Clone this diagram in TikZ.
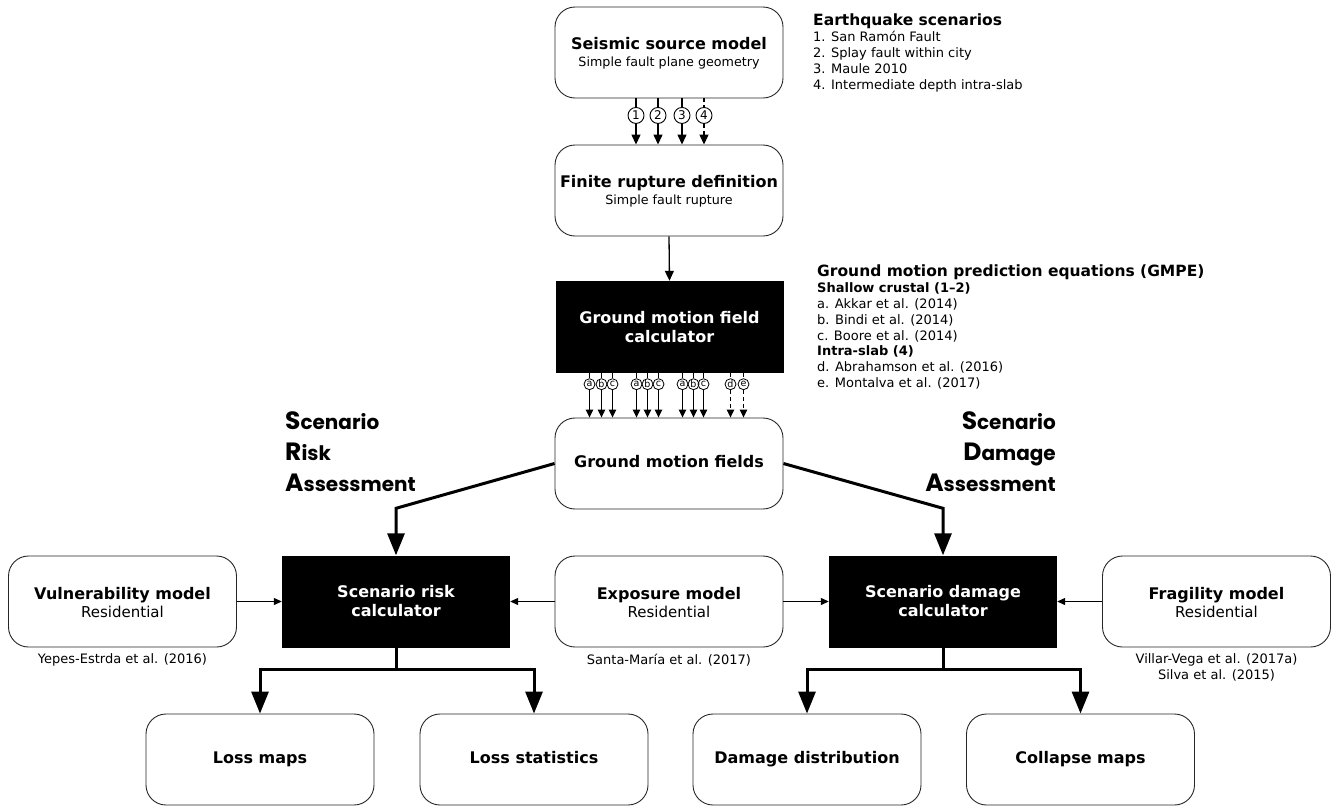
\documentclass[tikz,border=0pt]{standalone}
\usepackage{fontspec}
\setmainfont{DejaVu Sans}
\newfontfamily\headfont{Poppins}
\usetikzlibrary{arrows.meta}

% sizes in px of the drawing (1pt = 1px)
\newcommand{\ttl}[1]{{\fontsize{16}{19}\selectfont\bfseries\strut #1}}
\newcommand{\lttl}[1]{{\fontsize{15.5}{16}\selectfont\bfseries #1}}
\newcommand{\sub}[1]{{\fontsize{12.7}{15}\selectfont #1}}
\newcommand{\subl}[1]{{\fontsize{15}{19}\selectfont #1}}
\newcommand{\initial}[1]{{\fontsize{25}{25}\selectfont #1}}

\begin{document}
\begin{tikzpicture}[x=1pt,y=-1pt,
    box/.style={draw=black!85, line width=0.9pt, rounded corners=20pt,
      minimum width=228pt, minimum height=91pt, align=center, inner sep=0pt},
    calcbox/.style={fill=black, text=white, minimum width=228pt, minimum height=92pt,
      align=center, inner sep=0pt, font=\fontsize{16}{19}\selectfont\bfseries},
    numcirc/.style={circle, draw, line width=0.9pt, minimum size=16pt, inner sep=0pt,
      font=\fontsize{12}{12}\selectfont},
    letcirc/.style={circle, draw, line width=0.8pt, minimum size=11pt, inner sep=0pt,
      font=\fontsize{9.5}{9.5}\selectfont},
    stem/.style={line width=1.3pt},
    thinarrow/.style={line width=1.3pt, -{Triangle[length=10pt,width=9pt]}},
    smallarrow/.style={line width=1.2pt, -{Triangle[length=8pt,width=7.5pt]}},
    sidearrow/.style={line width=1.2pt, -{Triangle[length=8pt,width=7pt]}},
    bigarrow/.style={line width=3pt, line join=miter, -{Triangle[length=22pt,width=17pt]}},
    dashy/.style={dash pattern=on 4pt off 3pt},
    ref/.style={font=\fontsize{13}{16}\selectfont, align=center, inner sep=0pt},
    legend/.style={font=\fontsize{13}{15.8}\selectfont, align=left, inner sep=0pt},
    head/.style={font=\headfont\bfseries\fontsize{20}{31}\selectfont, inner sep=0pt}]

  \useasboundingbox (0,0) rectangle (1331,807);

  % Top chain
  \node[box] (seismic) at (669,52.5) {\ttl{Seismic source model}\\\sub{Simple fault plane geometry}};
  \node[box] (rupture) at (669,190.5) {\ttl{Finite rupture definition}\\\sub{Simple fault rupture}};
  \node[calcbox] (gmfcalc) at (669.5,327) {Ground motion field\\calculator};
  \node[box] (fields) at (669,463.5) {\ttl{Ground motion fields}};

  % Earthquake scenarios
  \foreach \dx/\num in {-33/1,-11/2,13/3}{
    \node[numcirc] (n\num) at ([xshift=\dx pt,yshift=-17pt]seismic.south) {\num};
    \draw[stem] ([xshift=\dx pt]seismic.south) -- (n\num);
    \draw[thinarrow] (n\num) -- (n\num |- rupture.north);
  }
  \node[numcirc] (n4) at ([xshift=35pt,yshift=-17pt]seismic.south) {4};
  \draw[stem, dashy] ([xshift=35pt]seismic.south) -- (n4);
  \draw[thinarrow, dashy] (n4) -- (n4 |- rupture.north);

  \draw[thinarrow] (rupture.south) -- (gmfcalc.north);

  % GMPE per scenario
  \foreach \dx/\lab/\k in {-80/a/1,-68/b/2,-57/c/3,-33/a/4,-22/b/5,-11/c/6,13/a/7,24/b/8,34/c/9}{
    \node[letcirc] (g\k) at ([xshift=\dx pt,yshift=-11pt]gmfcalc.south) {\lab};
    \draw[stem] ([xshift=\dx pt]gmfcalc.south) -- (g\k);
    \draw[smallarrow] (g\k) -- (g\k |- fields.north);
  }
  \foreach \dx/\lab in {61/d,74/e}{
    \node[letcirc] (g\lab) at ([xshift=\dx pt,yshift=-11pt]gmfcalc.south) {\lab};
    \draw[stem, dashy] ([xshift=\dx pt]gmfcalc.south) -- (g\lab);
    \draw[smallarrow, dashy] (g\lab) -- (g\lab |- fields.north);
  }

  % Legends
  \node[legend, anchor=north west] (eqlist) at (813,14)
    {\lttl{Earthquake scenarios}\\
     1. San Ramón Fault\\
     2. Splay fault within city\\
     3. Maule 2010\\
     4. Intermediate depth intra-slab};
  \node[legend, anchor=north west] (gmpelist) at (817,265)
    {\lttl{Ground motion prediction equations (GMPE)}\\
     \textbf{Shallow crustal (1–2)}\\
     a. Akkar et al. (2014)\\
     b. Bindi et al. (2014)\\
     c. Boore et al. (2014)\\
     \textbf{Intra-slab (4)}\\
     d. Abrahamson et al. (2016)\\
     e. Montalva et al. (2017)};

  % Assessment headings
  \node[head, align=left, anchor=north west] (srahead) at (285,411)
    {\initial{S}cenario\\\initial{R}isk\\\initial{A}ssessment};
  \node[head, align=right, anchor=north east] (sdahead) at (1056,411)
    {\initial{S}cenario\\\initial{D}amage\\\initial{A}ssessment};

  % Middle row
  \node[box] (vuln) at (122.5,601.5) {\ttl{Vulnerability model}\\\subl{Residential}};
  \node[calcbox] (riskcalc) at (396,601.5) {Scenario risk\\calculator};
  \node[box] (exposure) at (669,601.5) {\ttl{Exposure model}\\\subl{Residential}};
  \node[calcbox] (dmgcalc) at (943,601.5) {Scenario damage\\calculator};
  \node[box] (fragility) at (1216.5,601.5) {\ttl{Fragility model}\\\subl{Residential}};

  \node[ref, below=6pt] (vulnref) at (vuln.south) {Yepes-Estrda et al. (2016)};
  \node[ref, below=6pt] (expref) at (exposure.south) {Santa-María et al. (2017)};
  \node[ref, below=6pt] (fragref) at (fragility.south) {Villar-Vega et al. (2017a)\\Silva et al. (2015)};

  \draw[sidearrow] (vuln.east) -- (riskcalc.west);
  \draw[sidearrow] (exposure.west) -- (riskcalc.east);
  \draw[sidearrow] (exposure.east) -- (dmgcalc.west);
  \draw[sidearrow] (fragility.west) -- (dmgcalc.east);

  % Fields to calculators
  \draw[bigarrow] (fields.west) -- ([yshift=47pt]riskcalc.north) -- (riskcalc.north);
  \draw[bigarrow] (fields.east) -- ([yshift=47pt]dmgcalc.north) -- (dmgcalc.north);

  % Outputs
  \node[box] (lossmaps) at (260,759.5) {\ttl{Loss maps}};
  \node[box] (lossstats) at (534,759.5) {\ttl{Loss statistics}};
  \node[box] (dmgdist) at (807,759.5) {\ttl{Damage distribution}};
  \node[box] (collapse) at (1080.5,759.5) {\ttl{Collapse maps}};

  \draw[bigarrow] (riskcalc.south) |- ([yshift=44pt]lossmaps.north) -- (lossmaps.north);
  \draw[bigarrow] (riskcalc.south) |- ([yshift=44pt]lossstats.north) -- (lossstats.north);
  \draw[bigarrow] (dmgcalc.south) |- ([yshift=44pt]dmgdist.north) -- (dmgdist.north);
  \draw[bigarrow] (dmgcalc.south) |- ([yshift=44pt]collapse.north) -- (collapse.north);
\end{tikzpicture}
\end{document}
